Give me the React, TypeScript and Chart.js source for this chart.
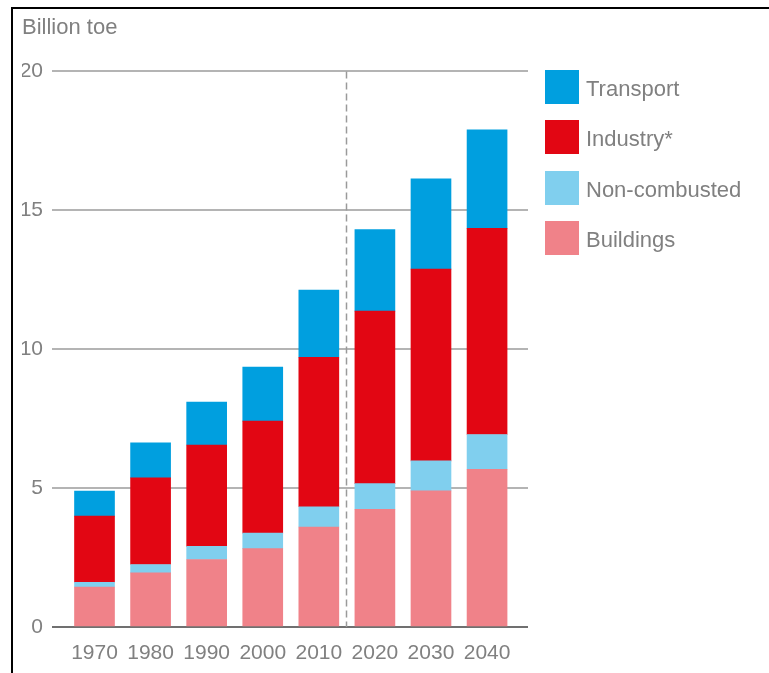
import React, { useEffect, useRef } from "react";
import { Chart, registerables } from "chart.js";

Chart.register(...registerables);

const years = [1970, 1980, 1990, 2000, 2010, 2020, 2030, 2040];
const buildings = [1.44, 1.95, 2.43, 2.82, 3.6, 4.24, 4.9, 5.68];
const nonCombusted = [0.17, 0.3, 0.47, 0.56, 0.73, 0.92, 1.08, 1.25];
const industry = [2.38, 3.12, 3.65, 4.03, 5.38, 6.21, 6.9, 7.42];
const transport = [0.9, 1.26, 1.55, 1.95, 2.42, 2.94, 3.25, 3.55];
const yTicks = [0, 5, 10, 15, 20];
const projectionStart = 2015;
const unitLabel = "Billion toe";

const seriesNames = ["Buildings", "Non-combusted", "Industry*", "Transport"];
const seriesColors = ["#F08289", "#80CFEE", "#E20613", "#009FDF"];
const seriesValues = [buildings, nonCombusted, industry, transport];

const TEXT = "#808080";
const FONT = "'Liberation Sans', Arial, sans-serif";

const dashedPlugin = {
  id: "projectionLine",
  beforeDatasetsDraw(chart: any) {
    const { ctx, chartArea, scales } = chart;
    const x = Math.round(scales.x.getPixelForValue(projectionStart)) - 0.5;
    ctx.save();
    ctx.strokeStyle = "#9a9a9a";
    ctx.lineWidth = 1.5;
    ctx.setLineDash([7, 4]);
    ctx.beginPath();
    ctx.moveTo(x, chartArea.top);
    ctx.lineTo(x, chartArea.bottom);
    ctx.stroke();
    ctx.restore();
  },
};

export default function App() {
  const ref = useRef<HTMLCanvasElement | null>(null);

  useEffect(() => {
    if (!ref.current) return;
    const chart = new Chart(ref.current, {
      type: "bar",
      data: {
        datasets: seriesValues.map((vals, i) => ({
          label: seriesNames[i],
          data: vals.map((v, j) => ({ x: years[j], y: v })),
          backgroundColor: seriesColors[i],
          borderWidth: 0,
          barThickness: 40,
        })),
      },
      options: {
        responsive: false,
        animation: false,
        devicePixelRatio: 1,
        layout: { padding: { left: 22, right: 241, top: 0, bottom: 0 } },
        plugins: {
          legend: { display: false },
          tooltip: { enabled: false },
          title: {
            display: true,
            text: unitLabel,
            align: "start",
            color: TEXT,
            font: { family: FONT, size: 22, weight: "normal" },
            padding: { top: 15, bottom: 30 },
          },
        },
        scales: {
          x: {
            type: "linear",
            stacked: true,
            offset: false,
            min: 1962.42,
            max: 2047.3,
            afterBuildTicks: (scale: any) => {
              scale.ticks = years.map((v) => ({ value: v }));
            },
            afterFit: (scale: any) => {
              scale.height = 46;
            },
            grid: { display: false, drawTicks: false, offset: false },
            border: { display: false },
            ticks: {
              padding: 14,
              color: TEXT,
              font: { family: FONT, size: 21 },
              callback: (v: any) => String(v),
              autoSkip: false,
              maxRotation: 0,
            },
          },
          y: {
            stacked: true,
            min: 0,
            max: 20,
            afterBuildTicks: (scale: any) => {
              scale.ticks = yTicks.map((v) => ({ value: v }));
            },
            afterFit: (scale: any) => {
              scale.width = 30;
            },
            grid: {
              drawTicks: false,
              color: (c: any) => (c.tick && c.tick.value === 0 ? "#707070" : "#b4b4b4"),
              lineWidth: 2,
            },
            border: { display: false },
            ticks: {
              padding: 9,
              color: TEXT,
              font: { family: FONT, size: 21 },
            },
          },
        },
      } as any,
      plugins: [dashedPlugin],
    });
    return () => chart.destroy();
  }, []);

  const legendOrder = [3, 2, 1, 0];

  return (
    <div
      style={{
        position: "fixed",
        left: 0,
        top: 0,
        width: 769,
        height: 673,
        background: "#fff",
        overflow: "hidden",
      }}
    >
      <div
        style={{
          position: "absolute",
          left: 11,
          top: 7,
          width: 800,
          height: 700,
          borderTop: "2px solid #000",
          borderLeft: "2px solid #000",
        }}
      />
      <canvas
        ref={ref}
        width={769}
        height={673}
        style={{ position: "absolute", left: 0, top: 0, width: 769, height: 673 }}
      />
      {legendOrder.map((idx, k) => (
        <div
          key={seriesNames[idx]}
          style={{
            position: "absolute",
            left: 545,
            top: 70 + k * 50.4,
            height: 34,
            display: "flex",
            alignItems: "center",
            fontFamily: FONT,
            fontSize: 22,
            color: TEXT,
            whiteSpace: "nowrap",
          }}
        >
          <span
            style={{
              display: "inline-block",
              width: 34,
              height: 34,
              background: seriesColors[idx],
              marginRight: 7,
            }}
          />
          <span style={{ position: "relative", top: 2 }}>{seriesNames[idx]}</span>
        </div>
      ))}
    </div>
  );
}
